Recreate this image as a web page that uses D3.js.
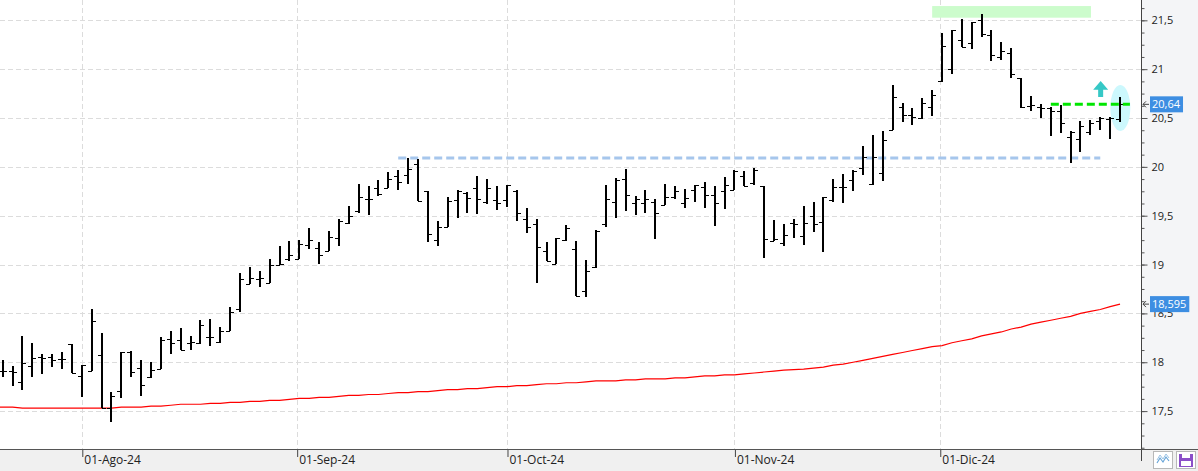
<!DOCTYPE html>
<html>
<head>
<meta charset="utf-8">
<script src="https://cdn.jsdelivr.net/npm/d3@7"></script>
<style>
  html, body { margin: 0; padding: 0; background: #ffffff; }
  svg { display: block; }
  text { font-family: "Open Sans", "Noto Sans", sans-serif; }
</style>
</head>
<body>
<svg id="chart" width="1198" height="471"></svg>
<script>
// ---------------- DATA ----------------
// one entry per trading session (22-Jul-2024 .. end Dec-2024)
const opens = [17.91,17.91,17.80,17.96,18.05,18.05,18.03,18.19,17.86,17.91,
  18.07,17.53,17.71,18.10,17.94,17.85,17.93,18.24,18.23,18.20,
  18.20,18.26,18.21,18.32,18.54,18.80,18.85,18.81,19.00,19.06,
  19.06,19.20,19.17,19.14,19.27,19.43,19.55,19.67,19.78,19.78,
  19.91,19.92,20.03,19.75,19.25,19.38,19.66,19.73,19.78,19.64,
  19.66,19.66,19.75,19.47,19.41,19.14,19.01,19.25,19.16,18.73,
  18.98,19.41,19.64,19.88,19.63,19.63,19.64,19.61,19.69,19.63,
  19.76,19.79,19.71,19.75,19.76,19.91,19.83,19.80,19.24,19.22,
  19.43,19.29,19.50,19.44,19.66,19.79,19.87,19.99,19.82,19.94,
  20.38,20.61,20.53,20.50,20.61,20.88,21.00,21.30,21.27,21.50,
  21.35,21.12,21.17,20.91,20.62,20.61,20.60,20.57,20.31,20.29,
  20.36,20.47,20.49,20.49];
const highs = [18.02,17.96,18.27,18.20,18.08,18.08,18.10,18.19,17.97,18.54,
  18.30,17.70,18.10,18.12,18.02,18.00,18.255,18.32,18.35,18.27,
  18.43,18.44,18.36,18.57,18.91,18.97,18.93,19.06,19.19,19.24,
  19.25,19.37,19.23,19.34,19.47,19.60,19.82,19.80,19.87,19.95,
  19.97,20.09,20.08,19.75,19.45,19.69,19.76,19.74,19.91,19.88,
  19.80,19.81,19.76,19.58,19.47,19.23,19.27,19.40,19.24,19.05,
  19.35,19.81,19.89,19.98,19.70,19.76,19.67,19.82,19.80,19.77,
  19.81,19.84,19.80,19.90,19.97,19.96,19.99,19.80,19.46,19.42,
  19.47,19.60,19.64,19.69,19.88,19.93,19.97,20.21,20.33,20.37,
  20.84,20.65,20.60,20.70,20.79,21.37,21.40,21.51,21.48,21.56,
  21.40,21.28,21.22,20.91,20.73,20.64,20.61,20.63,20.37,20.47,
  20.48,20.51,20.51,20.71];
const lows = [17.85,17.76,17.72,17.85,17.88,17.95,17.93,17.89,17.64,17.91,
  17.53,17.39,17.63,17.85,17.65,17.84,17.93,18.08,18.13,18.13,
  18.19,18.17,18.20,18.32,18.51,18.80,18.77,18.81,19.00,19.04,
  19.06,19.16,19.01,19.14,19.19,19.42,19.53,19.51,19.70,19.78,
  19.76,19.82,19.65,19.23,19.19,19.38,19.48,19.53,19.52,19.62,
  19.56,19.59,19.45,19.32,18.81,19.04,19.01,19.24,18.68,18.67,
  18.96,19.38,19.48,19.55,19.51,19.53,19.26,19.61,19.67,19.58,
  19.64,19.58,19.39,19.57,19.76,19.80,19.81,19.07,19.24,19.19,
  19.27,19.20,19.33,19.13,19.64,19.63,19.75,19.92,19.81,19.86,
  20.38,20.46,20.43,20.49,20.52,20.87,20.95,21.23,21.21,21.33,
  21.08,21.09,20.91,20.60,20.57,20.50,20.32,20.35,20.04,20.15,
  20.33,20.38,20.29,20.46];
const closes = [17.91,17.90,17.99,18.04,18.04,18.02,18.03,17.89,17.97,18.42,
  17.53,17.65,18.10,17.90,17.77,17.92,18.23,18.20,18.13,18.21,
  18.38,18.26,18.32,18.51,18.85,18.86,18.86,19.00,19.01,19.10,
  19.21,19.25,19.10,19.28,19.45,19.50,19.69,19.67,19.72,19.88,
  19.84,19.98,19.65,19.31,19.38,19.65,19.75,19.68,19.67,19.78,
  19.63,19.81,19.53,19.38,19.18,19.04,19.27,19.37,18.68,18.93,
  19.34,19.67,19.87,19.71,19.67,19.67,19.53,19.69,19.75,19.68,
  19.81,19.71,19.63,19.81,19.96,19.80,19.97,19.26,19.26,19.30,
  19.41,19.43,19.42,19.69,19.79,19.79,19.96,20.10,20.10,20.27,
  20.71,20.53,20.51,20.65,20.74,21.24,21.40,21.23,21.48,21.36,
  21.14,21.19,20.95,20.61,20.63,20.60,20.57,20.45,20.36,20.42,
  20.45,20.50,20.50,20.64];
// 200-session moving average (red line)
const movingAvg = [17.54,17.54,17.53,17.53,17.53,17.53,17.53,17.53,17.53,17.53,
  17.53,17.53,17.54,17.54,17.54,17.55,17.55,17.56,17.57,17.57,
  17.57,17.58,17.58,17.59,17.59,17.60,17.60,17.61,17.61,17.62,
  17.63,17.63,17.64,17.64,17.65,17.66,17.66,17.67,17.67,17.68,
  17.69,17.69,17.70,17.70,17.71,17.72,17.72,17.73,17.73,17.74,
  17.75,17.75,17.76,17.76,17.77,17.78,17.78,17.79,17.79,17.80,
  17.81,17.81,17.81,17.82,17.82,17.83,17.83,17.83,17.84,17.84,
  17.85,17.86,17.86,17.87,17.87,17.88,17.89,17.90,17.91,17.92,
  17.925,17.93,17.94,17.95,17.97,17.98,18.00,18.02,18.04,18.06,
  18.08,18.10,18.12,18.14,18.16,18.17,18.20,18.22,18.24,18.27,
  18.29,18.31,18.34,18.36,18.39,18.41,18.43,18.45,18.47,18.50,
  18.52,18.54,18.57,18.595];

const monthTickIdx = [8, 29.73, 51, 74, 94.77];
const monthLabels = ["01-Ago-24", "01-Sep-24", "01-Oct-24", "01-Nov-24", "01-Dic-24"];
const yTickValues = [17.5, 18, 18.5, 19, 19.5, 20, 20.5, 21, 21.5];

// annotations
const resistance = { from: 40, to: 111, value: 20.09 };
const lastLevel = { from: 106, to: 114, value: 20.64 };
const topZone = { from: 94, to: 110.06, low: 21.527, high: 21.646 };
const lastHighlight = { idx: 113.03, value: 20.602, rIdx: 1.01, rVal: 0.235 };
const upArrow = { idx: 111.04, top: 20.878, bottom: 20.715 };
const priceTags = [ { value: 20.64, label: "20,64" }, { value: 18.595, label: "18,595" } ];

// ---------------- LAYOUT ----------------
const W = 1198, H = 471;
const plotW = 1141, plotH = 449;
const svg = d3.select("#chart");

const x = d3.scaleLinear().domain([-0.273, 115.12]).range([0, plotW]);
const y = d3.scaleLinear().domain([17.112, 21.708]).range([plotH, 0]);

// backgrounds
svg.append("rect").attr("x", 0).attr("y", 0).attr("width", W).attr("height", H).attr("fill", "#ffffff");
svg.append("rect").attr("x", plotW).attr("y", 0).attr("width", W - plotW).attr("height", plotH).attr("fill", "#f4f5f7");
svg.append("rect").attr("x", 0).attr("y", plotH).attr("width", W).attr("height", H - plotH).attr("fill", "#f0f0f0");

// grid
const grid = svg.append("g");
grid.selectAll("line.h").data(yTickValues).join("line")
  .attr("x1", 0).attr("x2", plotW)
  .attr("y1", d => Math.round(y(d)) + 0.5).attr("y2", d => Math.round(y(d)) + 0.5)
  .attr("stroke", "#dcdcdc").attr("stroke-dasharray", "5,3");
grid.selectAll("line.v").data(monthTickIdx).join("line")
  .attr("x1", d => Math.round(x(d)) + 0.5).attr("x2", d => Math.round(x(d)) + 0.5)
  .attr("y1", 0).attr("y2", plotH)
  .attr("stroke", "#dcdcdc").attr("stroke-dasharray", "5,3");

// annotations behind bars
svg.append("rect")
  .attr("x", x(topZone.from)).attr("width", x(topZone.to) - x(topZone.from))
  .attr("y", y(topZone.high)).attr("height", y(topZone.low) - y(topZone.high))
  .attr("fill", "#ccfccc");
svg.append("ellipse")
  .attr("cx", x(lastHighlight.idx)).attr("cy", y(lastHighlight.value))
  .attr("rx", x(lastHighlight.rIdx) - x(0)).attr("ry", y(lastHighlight.value - lastHighlight.rVal) - y(lastHighlight.value))
  .attr("fill", "#ccf8fd");

svg.append("line")
  .attr("x1", x(resistance.from)).attr("x2", x(resistance.to))
  .attr("y1", y(resistance.value)).attr("y2", y(resistance.value))
  .attr("stroke", "#a6c6ec").attr("stroke-width", 3).attr("stroke-dasharray", "8,4");

// moving average
svg.append("path")
  .datum(movingAvg)
  .attr("fill", "none").attr("stroke", "#ff0000").attr("stroke-width", 1.2)
  .attr("d", d3.line().x((d, i) => i === 0 ? x(-0.273) : x(i)).y(d => y(d)));

// OHLC bars
const bars = svg.append("g").attr("stroke", "#000000").attr("shape-rendering", "crispEdges");
const idx = d3.range(opens.length);
bars.selectAll("line.hl").data(idx).join("line")
  .attr("x1", i => Math.round(x(i))).attr("x2", i => Math.round(x(i)))
  .attr("y1", i => y(highs[i])).attr("y2", i => y(lows[i]))
  .attr("stroke-width", 2);
bars.selectAll("line.o").data(idx).join("line")
  .attr("x1", i => Math.round(x(i)) - 4).attr("x2", i => Math.round(x(i)))
  .attr("y1", i => Math.round(y(opens[i])) + 0.5).attr("y2", i => Math.round(y(opens[i])) + 0.5)
  .attr("stroke-width", 1.5);
bars.selectAll("line.c").data(idx).join("line")
  .attr("x1", i => Math.round(x(i))).attr("x2", i => Math.round(x(i)) + 4)
  .attr("y1", i => Math.round(y(closes[i])) + 0.5).attr("y2", i => Math.round(y(closes[i])) + 0.5)
  .attr("stroke-width", 1.5);

// last level green dashed
svg.append("line")
  .attr("x1", x(lastLevel.from)).attr("x2", x(lastLevel.to))
  .attr("y1", y(lastLevel.value)).attr("y2", y(lastLevel.value))
  .attr("stroke", "#00e600").attr("stroke-width", 3).attr("stroke-dasharray", "8,4");

// up arrow
{
  const cx = x(upArrow.idx), yt = y(upArrow.top), yb = y(upArrow.bottom);
  const headB = yt + (yb - yt) * 0.55;
  svg.append("path")
    .attr("d", `M${cx},${yt} L${cx + 7.5},${headB} L${cx + 2.5},${headB} L${cx + 2.5},${yb} L${cx - 2.5},${yb} L${cx - 2.5},${headB} L${cx - 7.5},${headB} Z`)
    .attr("fill", "#36c8c6");
}

// ---------------- AXES ----------------
// right axis
const yAxisG = svg.append("g").attr("transform", `translate(${plotW + 0.5},0)`);
yAxisG.call(d3.axisRight(y).tickValues(d3.range(17.125, 21.71, 0.125)).tickSize(3).tickFormat(""));
yAxisG.call(g => g.selectAll(".tick line").attr("stroke", "#555"));
const yAxisMajor = svg.append("g").attr("transform", `translate(${plotW + 0.5},0)`)
  .call(d3.axisRight(y).tickValues(yTickValues).tickSize(6).tickPadding(4)
    .tickFormat(d => String(d).replace(".", ",")));
yAxisMajor.selectAll(".tick line").attr("stroke", "#555");
yAxisMajor.selectAll(".tick text").attr("fill", "#222").attr("font-size", 11)
  .attr("font-family", "'Open Sans', sans-serif");
svg.selectAll(".domain").remove();
svg.append("line").attr("x1", plotW + 0.5).attr("x2", plotW + 0.5).attr("y1", 0).attr("y2", plotH + 12)
  .attr("stroke", "#444");

// bottom axis
const xAxisG = svg.append("g").attr("transform", `translate(0,${plotH})`)
  .call(d3.axisBottom(x).tickValues(monthTickIdx).tickSize(8).tickFormat((d, i) => monthLabels[i]));
xAxisG.select(".domain").remove();
xAxisG.selectAll(".tick line").attr("stroke", "#444").attr("transform", "translate(0.5,0)");
xAxisG.selectAll(".tick text")
  .attr("text-anchor", "start").attr("x", 2).attr("y", 6).attr("dy", "0.71em")
  .attr("fill", "#222").attr("font-size", 12).attr("font-family", "'Open Sans', sans-serif");
svg.append("line").attr("x1", 0).attr("x2", W).attr("y1", plotH + 0.5).attr("y2", plotH + 0.5)
  .attr("stroke", "#555");

// price tags
const tags = svg.append("g");
priceTags.forEach(t => {
  const cy = y(t.value);
  tags.append("path")
    .attr("d", `M${plotW + 8},${cy} L${plotW + 2},${cy} M${plotW + 5},${cy - 3} L${plotW + 2},${cy} L${plotW + 5},${cy + 3}`)
    .attr("stroke", "#444").attr("fill", "none").attr("stroke-width", 1);
  const txt = tags.append("text").attr("x", plotW + 11).attr("y", cy).attr("dy", "0.35em")
    .attr("font-size", 11).attr("fill", "#ffffff").text(t.label);
  const bw = txt.node().getComputedTextLength();
  tags.insert("rect", "text")
    .attr("x", plotW + 9).attr("y", cy - 8).attr("width", bw + 5).attr("height", 16)
    .attr("fill", "#3d8ee2");
});
tags.selectAll("text").raise();

// bottom-right buttons
const btn = svg.append("g");
btn.append("rect").attr("x", 1153.5).attr("y", 451.5).attr("width", 19).attr("height", 17)
  .attr("fill", "#ffffff").attr("stroke", "#b8b8b8");
btn.append("path").attr("d", "M1157,463 L1160,458 L1163,462 L1166,457 L1169,461")
  .attr("stroke", "#6aa6d8").attr("fill", "none").attr("stroke-width", 1.2);
btn.append("path").attr("d", "M1157,460 L1160,455 L1163,459 L1166,454 L1169,458")
  .attr("stroke", "#9cc4e6").attr("fill", "none").attr("stroke-width", 1);
btn.append("rect").attr("x", 1176.5).attr("y", 451.5).attr("width", 19).attr("height", 17)
  .attr("fill", "#ffffff").attr("stroke", "#b8b8b8");
btn.append("rect").attr("x", 1179).attr("y", 454).attr("width", 14).attr("height", 13).attr("fill", "#8b4fc8");
btn.append("rect").attr("x", 1182).attr("y", 454).attr("width", 8).attr("height", 4).attr("fill", "#ffffff");
btn.append("rect").attr("x", 1181).attr("y", 461).attr("width", 10).attr("height", 5).attr("fill", "#ffffff");
</script>
</body>
</html>
